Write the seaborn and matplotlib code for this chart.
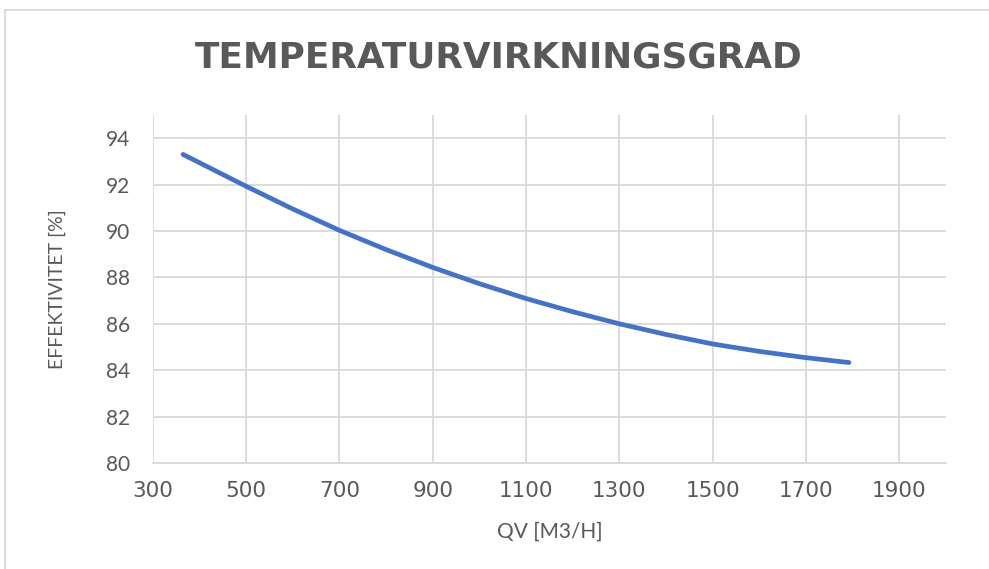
import matplotlib
matplotlib.use("Agg")
import matplotlib.pyplot as plt
import seaborn as sns
import pandas as pd
from matplotlib.lines import Line2D

# Data
flow = [365, 500, 600, 700, 800, 900, 1000, 1100, 1200, 1300, 1400, 1500, 1600, 1700, 1792]
efficiency = [93.30, 91.93, 90.95, 90.03, 89.20, 88.43, 87.73, 87.09, 86.52, 86.00, 85.54, 85.13, 84.81, 84.54, 84.33]
x_ticks = [300, 500, 700, 900, 1100, 1300, 1500, 1700, 1900]
y_ticks = [80, 82, 84, 86, 88, 90, 92, 94]

title = "TEMPERATURVIRKNINGSGRAD"
x_label = "QV [M3/H]"
y_label = "EFFEKTIVITET [%]"

df = pd.DataFrame({"flow": flow, "eff": efficiency})

sns.set_theme(style="white")
plt.rcParams["font.family"] = ["Lato", "DejaVu Sans"]

W, H = 989, 569
fig = plt.figure(figsize=(W / 100, H / 100), dpi=100)
fig.patch.set_facecolor("white")

left, right, top, bottom = 152.7, 946, 115, 463
ax = fig.add_axes([left / W, 1 - bottom / H, (right - left) / W, (bottom - top) / H])

text_col = "#595959"
grid_col = "#D9D9D9"

sns.lineplot(data=df, x="flow", y="eff", ax=ax, color="#4472C4", linewidth=3.4,
             solid_capstyle="round", solid_joinstyle="round")

ax.set_xlim(300, 2000)
ax.set_ylim(80, 95)
ax.set_xticks(x_ticks)
ax.set_yticks(y_ticks)
ax.set_xticklabels([str(v) for v in x_ticks], fontsize=15.5, color=text_col,
                   family=["DejaVu Sans"])
ax.set_yticklabels([str(v) for v in y_ticks], fontsize=15, color=text_col,
                   family=["Lato", "DejaVu Sans"])
ax.tick_params(axis="both", length=0)
ax.tick_params(axis="x", pad=13)
ax.tick_params(axis="y", pad=16)

ax.grid(True, color=grid_col, linewidth=1.3)
ax.set_axisbelow(True)
for s in ["top", "right", "left"]:
    ax.spines[s].set_visible(False)
ax.spines["bottom"].set_color(grid_col)
ax.spines["bottom"].set_linewidth(1.3)

ax.set_xlabel(x_label, fontsize=15, color=text_col, labelpad=15)
ax.set_ylabel(y_label, fontsize=14, color=text_col, labelpad=29)

fig.text(499 / W, 1 - 57 / H, title, ha="center", va="center", fontsize=25.8,
         fontweight="bold", color=text_col, family=["DejaVu Sans"])

# chart border (top and left edges visible)
fig.add_artist(Line2D([5 / W, 1.0], [1 - 9.5 / H, 1 - 9.5 / H], color="#D9D9D9", linewidth=1.3,
                      transform=fig.transFigure))
fig.add_artist(Line2D([5 / W, 5 / W], [1 - 9.5 / H, 0.0], color="#D9D9D9", linewidth=1.3,
                      transform=fig.transFigure))

fig.savefig("out.png", dpi=100, facecolor="white")
